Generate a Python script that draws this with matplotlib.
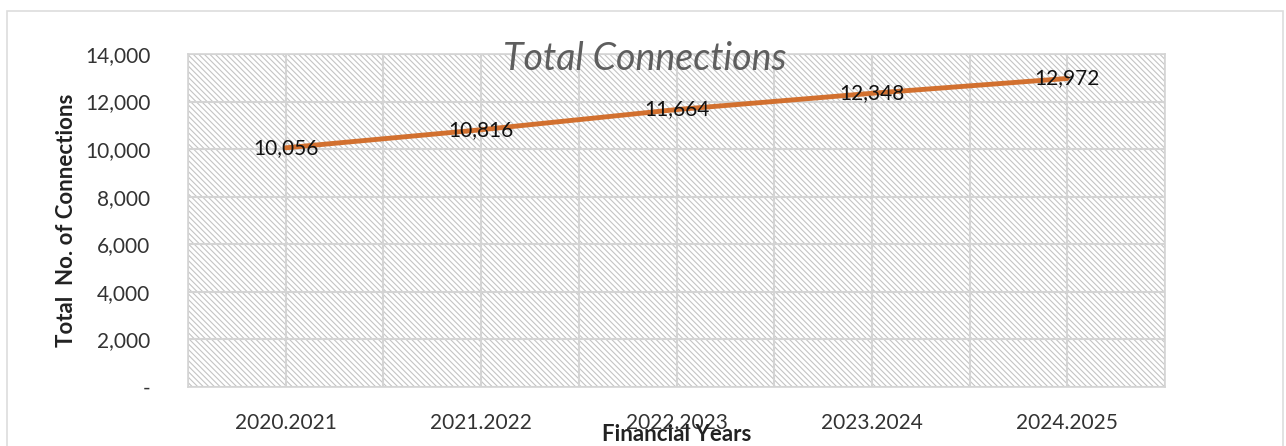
import matplotlib.pyplot as plt
from matplotlib.patches import Rectangle
from matplotlib.ticker import FuncFormatter, MultipleLocator

years = ['2020.2021', '2021.2022', '2022.2023', '2023.2024', '2024.2025']
connections = [10056, 10816, 11664, 12348, 12972]

plt.rcParams['font.family'] = ['Lato', 'DejaVu Sans']
plt.rcParams['hatch.linewidth'] = 0.8

fig = plt.figure(figsize=(12.86, 4.46), dpi=100)
ax = fig.add_axes([188 / 1286, 1 - 387 / 446, (1165 - 188) / 1286, (387 - 54) / 446])

# hatched plot background
ax.add_patch(Rectangle((0, 0), 1, 1, transform=ax.transAxes, facecolor='none',
                       edgecolor='#c4c4c4', hatch='\\\\\\\\\\\\', lw=0, zorder=0))

x = list(range(len(years)))
ax.plot(x, connections, color='#d2702f', lw=3.5, solid_capstyle='round', zorder=3)
for xi, v in zip(x, connections):
    ax.text(xi, v, f'{v:,}', ha='center', va='center', fontsize=15, color='#111111', zorder=4)

ax.set_xlim(-0.5, len(years) - 0.5)
ax.set_ylim(0, 14000)
ax.set_xticks(x)
ax.set_xticklabels(years)
ax.xaxis.set_minor_locator(MultipleLocator(0.5))
ax.yaxis.set_major_locator(MultipleLocator(2000))
ax.yaxis.set_major_formatter(FuncFormatter(lambda v, p: '-' if v == 0 else f'{int(v):,}'))

ax.grid(True, which='both', axis='x', color='#d4d4d4', lw=1.5, zorder=1)
ax.grid(True, which='major', axis='y', color='#d4d4d4', lw=1.5, zorder=1)
ax.set_axisbelow(True)
ax.tick_params(which='both', length=0, labelsize=15, colors='#333333', pad=19)
ax.tick_params(axis='y', pad=27)
for s in ax.spines.values():
    s.set_color('#d4d4d4')
    s.set_linewidth(1.2)

ax.set_ylabel('Total  No. of Connections', fontsize=16, fontweight='bold', color='#222222', labelpad=6)
ax.set_xlabel('Financial Years', fontsize=16, fontweight='bold', color='#222222', labelpad=-7)
fig.text(645 / 1286, 1 - 59 / 446, 'Total Connections', ha='center', va='center',
         fontsize=27, style='italic', fontweight='normal', color='#5e5e5e')

# outer chart border
fig.patches.append(Rectangle((7 / 1286, -0.05), (1283 - 7) / 1286, 1.05 - 11 / 446,
                             transform=fig.transFigure, fill=False, ec='#dddddd', lw=1.2))

fig.savefig('out.png', dpi=100)
